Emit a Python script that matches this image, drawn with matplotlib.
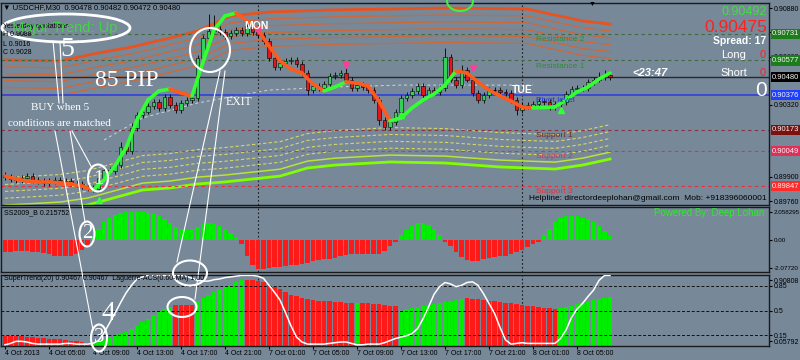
import matplotlib
matplotlib.use("Agg")
import matplotlib.pyplot as plt
from matplotlib.patches import Ellipse
import matplotlib.transforms as mtransforms

plt.rcParams['font.family'] = ['Liberation Sans', 'DejaVu Sans']
SERIF = ['Liberation Serif', 'DejaVu Serif']

# ---------------- data ----------------
time_labels = ["4 Oct 2013", "4 Oct 05:00", "4 Oct 09:00", "4 Oct 13:00", "4 Oct 17:00",
               "4 Oct 21:00", "7 Oct 01:00", "7 Oct 05:00", "7 Oct 09:00", "7 Oct 13:00",
               "7 Oct 17:00", "7 Oct 21:00", "8 Oct 01:00", "8 Oct 05:00"]
time_label_bars = [0, 8, 16, 24, 32, 40, 48, 56, 64, 72, 80, 88, 96, 104]
day_breaks = [46, 94]

# M30 closes, bar 0 .. 110
close = [0.89900, 0.89888, 0.89882, 0.89894, 0.89905, 0.89882, 0.89876, 0.89865, 0.89876, 0.89882,
         0.89871, 0.89876, 0.89865, 0.89859, 0.89847, 0.89836, 0.89830, 0.89894, 0.89940, 0.89934,
         0.89969, 0.90074, 0.90051, 0.90184, 0.90260, 0.90278, 0.90312, 0.90336, 0.90301, 0.90365,
         0.90318, 0.90289, 0.90330, 0.90347, 0.90359, 0.90591, 0.90708, 0.90748, 0.90760, 0.90743,
         0.90719, 0.90737, 0.90754, 0.90737, 0.90778, 0.90743, 0.90725, 0.90690, 0.90591, 0.90539,
         0.90562, 0.90574, 0.90580, 0.90557, 0.90504, 0.90405, 0.90429, 0.90417, 0.90440, 0.90487,
         0.90493, 0.90504, 0.90464, 0.90417, 0.90434, 0.90423, 0.90405, 0.90347, 0.90231, 0.90190,
         0.90219, 0.90278, 0.90359, 0.90376, 0.90400, 0.90429, 0.90376, 0.90405, 0.90394, 0.90417,
         0.90597, 0.90464, 0.90434, 0.90522, 0.90464, 0.90388, 0.90347, 0.90376, 0.90405, 0.90405,
         0.90394, 0.90388, 0.90347, 0.90289, 0.90318, 0.90312, 0.90324, 0.90341, 0.90336, 0.90307,
         0.90324, 0.90336, 0.90382, 0.90411, 0.90417, 0.90417, 0.90452, 0.90464, 0.90481, 0.90490,
         0.90480]
first_open = 0.89911
# wicks in pips beyond the body
wick_default = 1.5
wick_up = {21: 3, 23: 3, 35: 2, 37: 10, 38: 8, 44: 2, 62: 3, 80: 5, 83: 3, 108: 3, 109: 3}
wick_dn = {16: 2, 55: 3, 68: 3, 69: 2, 85: 2, 93: 3, 99: 2}

# colour-changing moving average, every second bar
ma_bars = list(range(0, 111, 2))
ma_vals = [0.89905, 0.89888, 0.89876, 0.89871, 0.89871, 0.89865, 0.89859, 0.89847, 0.89824, 0.89882,
           0.89964, 0.90068, 0.90231, 0.90347, 0.90400, 0.90411, 0.90388, 0.90371, 0.90568, 0.90754,
           0.90836, 0.90853, 0.90807, 0.90754, 0.90661, 0.90574, 0.90528, 0.90504, 0.90440, 0.90400,
           0.90423, 0.90452, 0.90446, 0.90429, 0.90341, 0.90225, 0.90243, 0.90301, 0.90347, 0.90382,
           0.90434, 0.90516, 0.90504, 0.90452, 0.90405, 0.90371, 0.90341, 0.90307, 0.90301, 0.90304,
           0.90307, 0.90347, 0.90394, 0.90423, 0.90469, 0.90504]

# slow dotted average
slow_bars = [18, 25, 35, 48, 60, 72, 96]
slow_vals = [0.90115, 0.90243, 0.90330, 0.90405, 0.90423, 0.90434, 0.90434]

# upper (orange) envelope family: outer line + pips below it
upper_bars = [0, 10, 17, 23, 30, 35, 41, 48, 60, 70, 80, 95, 100, 105, 110]
upper_vals = [0.90580, 0.90574, 0.90621, 0.90655, 0.90708, 0.90748, 0.90836, 0.90859, 0.90871, 0.90876,
              0.90882, 0.90876, 0.90841, 0.90807, 0.90789]
upper_steps = [0, 4, 8, 12, 16, 20]

# lower (green/yellow) envelope family: outer line + pips above it
lower_bars = [0, 10, 15, 17, 25, 30, 35, 40, 45, 50, 55, 60, 70, 80, 90, 100, 105, 110]
lower_vals = [0.89696, 0.89714, 0.89737, 0.89754, 0.89824, 0.89836, 0.89859, 0.89871, 0.89888, 0.89905,
              0.89952, 0.89969, 0.89987, 0.89981, 0.89958, 0.89946, 0.89969, 0.90004]
lower_steps = [0, 4, 8, 12, 16, 20]

# pivot levels
level_names = ["Resistance 2", "Resistance 1", "Pivot level", "Support 1", "Support 2", "Support 3"]
level_prices = [0.90731, 0.90577, 0.90376, 0.90173, 0.90049, 0.89847]
level_colors = ['#3e6b3e', '#3e6b3e', '#2f3fe0', '#8a3040', '#c8385e', '#e8303c']
level_text_colors = ['#2f8f2f', '#2f8f2f', '#2233ee', '#6e2a2a', '#c8385e', '#e8303c']
level_box_colors = ['#1d7d1d', '#1d7d1d', '#1f3fff', '#7a1010', '#e0305a', '#ff2a2a']
bid_price = 0.90480

# scale labels left visible between the level boxes
price_ticks = [0.9088, 0.9074, 0.9060, 0.9032, 0.8990, 0.8976]

# signal arrows
sell_bars = [46, 62, 85]
sell_prices = [0.90754, 0.90551, 0.90533]
buy_bars = [17, 72, 101]
buy_prices = [0.89766, 0.90260, 0.90289]

# SS2009_B histogram
ss_vals = [-0.95, -0.95, -0.85, -0.85, -0.85, -0.9, -0.95, -1.0, -1.1, -1.2,
           -1.25, -1.25, -1.2, -1.1, -0.8, -0.4, 0.2, 0.8, 1.3, 1.6,
           1.8, 1.95, 2.0, 2.05, 2.05, 2.0, 1.95, 1.85, 1.7, 1.5,
           1.25, 0.95, 0.78, 0.7, 0.8, 0.95, 1.15, 1.2, 1.15, 1.0,
           0.75, 0.45, 0.15, -0.3, -1.2, -1.9, -2.15, -2.15, -2.1, -2.05,
           -2.0, -1.95, -1.9, -1.85, -1.8, -1.7, -1.6, -1.5, -1.45, -1.4,
           -1.35, -1.25, -1.15, -1.1, -1.05, -1.1, -1.1, -1.1, -1.05, -0.85,
           -0.5, -0.15, 0.3, 0.7, 1.0, 1.2, 1.2, 1.05, 0.75, 0.35,
           -0.15, -0.5, -0.9, -1.3, -1.5, -1.6, -1.55, -1.45, -1.35, -1.3,
           -1.25, -1.2, -1.1, -0.95, -0.75, -0.55, -0.35, -0.15, 0.3, 0.8,
           1.3, 1.6, 1.75, 1.75, 1.7, 1.6, 1.5, 1.3, 1.0, 0.6, 0.25]

# SuperTrend / Laguerre histogram and its colour runs
lag_hist = [0.14, 0.14, 0.13, 0.13, 0.12, 0.12, 0.11, 0.11, 0.10, 0.09,
            0.09, 0.08, 0.07, 0.06, 0.05, 0.04, 0.04, 0.06, 0.08, 0.11,
            0.14, 0.17, 0.20, 0.24, 0.28, 0.33, 0.38, 0.43, 0.48, 0.52,
            0.55, 0.58, 0.58, 0.58, 0.58, 0.63, 0.68, 0.72, 0.76, 0.80,
            0.84, 0.87, 0.90, 0.93, 0.93, 0.93, 0.92, 0.90, 0.87, 0.84,
            0.80, 0.76, 0.72, 0.70, 0.68, 0.66, 0.65, 0.64, 0.63, 0.63,
            0.62, 0.62, 0.61, 0.61, 0.61, 0.60, 0.60, 0.59, 0.59, 0.58,
            0.57, 0.56, 0.50, 0.52, 0.53, 0.55, 0.56, 0.57, 0.59, 0.60,
            0.62, 0.63, 0.65, 0.66, 0.68, 0.67, 0.66, 0.65, 0.64, 0.63,
            0.62, 0.61, 0.60, 0.59, 0.58, 0.57, 0.56, 0.55, 0.54, 0.53,
            0.52, 0.53, 0.55, 0.57, 0.59, 0.61, 0.63, 0.65, 0.67, 0.68, 0.69]
lag_runs = [('r', 16), ('g', 15), ('r', 4), ('g', 9), ('r', 20), ('g', 1),
            ('r', 7), ('g', 12), ('r', 17), ('g', 10)]
lag_line = [0.01, 0.03, 0.06, 0.06, 0.05, 0.03, 0.02, 0.02, 0.02, 0.02,
            0.02, 0.03, 0.03, 0.02, 0.02, 0.02, 0.03, 0.07, 0.18, 0.32,
            0.46, 0.61, 0.75, 0.86, 0.95, 0.98, 1.0, 1.0, 1.0, 1.0,
            1.0, 1.0, 1.0, 0.99, 0.96, 0.93, 0.92, 0.92, 0.94, 0.95,
            0.97, 0.98, 0.99, 1.0, 1.0, 1.0, 0.99, 0.96, 0.86, 0.76,
            0.65, 0.47, 0.28, 0.12, 0.05, 0.02, 0.02, 0.02, 0.02, 0.03,
            0.04, 0.05, 0.05, 0.03, 0.01, 0.01, 0.02, 0.02, 0.02, 0.04,
            0.07, 0.10, 0.12, 0.14, 0.17, 0.24, 0.38, 0.55, 0.73, 0.84,
            0.90, 0.88, 0.84, 0.86, 0.90, 0.91, 0.86, 0.74, 0.60, 0.46,
            0.26, 0.08, 0.02, 0.03, 0.04, 0.03, 0.03, 0.03, 0.03, 0.03,
            0.03, 0.10, 0.22, 0.40, 0.52, 0.60, 0.70, 0.79, 0.93, 1.0, 1.0]

# ---------------- layout ----------------
BG = '#778899'
PIP = 0.0001
GREEN = '#00ee00'
RED = '#ff1a1a'


def px_rect(x0, y0, x1, y1):
    return [x0 / 800, 1 - y1 / 360, (x1 - x0) / 800, (y1 - y0) / 360]


fig = plt.figure(figsize=(8, 3.6), dpi=100, facecolor=BG)
ax1 = fig.add_axes(px_rect(1, 3, 769, 205))
ax2 = fig.add_axes(px_rect(1, 207, 769, 272))
ax3 = fig.add_axes(px_rect(1, 275, 769, 346))

xlim = (-4 / 5.5, -4 / 5.5 + 768 / 5.5)
for ax in (ax1, ax2, ax3):
    ax.set_facecolor(BG)
    ax.set_xlim(*xlim)
    for s in ax.spines.values():
        s.set_color('#1a1a1a')
        s.set_linewidth(1)
    ax.yaxis.tick_right()
    ax.tick_params(axis='y', labelsize=5, length=2, pad=1.5, colors='black')
    for d in day_breaks:
        ax.axvline(d, color='#1e1e1e', lw=0.8, ls=(0, (1.5, 2)), zorder=1)
for ax in (ax1, ax2):
    ax.tick_params(axis='x', bottom=False, labelbottom=False)

# ---- main price panel ----
ax1.set_ylim(0.897368, 0.909112)
ax1.set_yticks(price_ticks)
ax1.set_yticklabels(['%.5f' % p for p in price_ticks])

for k, st in enumerate(upper_steps):
    vals = [v - st * PIP for v in upper_vals]
    if k == 0:
        ax1.plot(upper_bars, vals, color='#e8531f', lw=2.0, zorder=2)
    else:
        ax1.plot(upper_bars, vals, color='#d9642e', lw=0.9, alpha=0.9, zorder=2)

for k, st in enumerate(lower_steps):
    vals = [v + st * PIP for v in lower_vals]
    if k == 0:
        ax1.plot(lower_bars, vals, color='#7fff00', lw=2.0, zorder=2)
    elif k == 1:
        ax1.plot(lower_bars, vals, color='#b8e436', lw=1.1, zorder=2)
    else:
        ax1.plot(lower_bars, vals, color='#d6d862', lw=0.8, ls=(0, (3, 2)), zorder=2)

ax1.plot(slow_bars, slow_vals, color='#cfd6de', lw=0.7, ls=(0, (3, 3)), zorder=2)

for name, p, c, tc, bc in zip(level_names, level_prices, level_colors, level_text_colors, level_box_colors):
    if name == "Pivot level":
        ax1.axhline(p, color=c, lw=1.2, zorder=2)
    else:
        ax1.axhline(p, color=c, lw=0.8, ls=(0, (3, 3)), zorder=2)
    ax1.annotate(name, (96.5, p), xytext=(0, -1.5), textcoords='offset points',
                 fontsize=6, color=tc, va='top', ha='left', zorder=6)
ax1.axhline(bid_price, color='#2a2a2a', lw=1.0, zorder=2)

trans1 = mtransforms.blended_transform_factory(ax1.transAxes, ax1.transData)
box_prices = level_prices[:2] + [bid_price] + level_prices[2:]
box_colors = level_box_colors[:2] + ['#000000'] + level_box_colors[2:]
for p, bc in zip(box_prices, box_colors):
    ax1.text(1.004, p, '%.5f' % p, transform=trans1, fontsize=5.5, color='#f4f4f4',
             ha='left', va='center', clip_on=False, zorder=8,
             bbox=dict(boxstyle='square,pad=0.2', fc=bc, ec='none'))

# candles
opens = [first_open] + close[:-1]
for i, (o, c) in enumerate(zip(opens, close)):
    top, bot = max(o, c), min(o, c)
    hi = top + wick_up.get(i, wick_default) * PIP
    lo = bot - wick_dn.get(i, wick_default) * PIP
    ax1.vlines(i, lo, hi, color='black', lw=0.6, zorder=3)
    if abs(c - o) < 0.00003:
        ax1.hlines(c, i - 0.35, i + 0.35, color='black', lw=0.8, zorder=4)
    else:
        ax1.bar(i, top - bot, bottom=bot, width=0.66, color='#32d25a' if c > o else '#e01818',
                edgecolor='black', linewidth=0.4, zorder=4)

# colour-changing MA
for k in range(len(ma_bars) - 1):
    up = ma_vals[k + 1] > ma_vals[k]
    ax1.plot(ma_bars[k:k + 2], ma_vals[k:k + 2], color='#33ff33' if up else '#ff5a1e',
             lw=2.6, solid_capstyle='round', zorder=5)

ax1.plot(sell_bars, sell_prices, 'v', color='#ff3d9a', ms=5, zorder=6)
ax1.plot(buy_bars, buy_prices, '^', color='#33ff33', ms=5, zorder=6)

# ---- SS2009_B panel ----
ax2.set_ylim(-2.39, 2.39)
ax2.bar(range(len(ss_vals)), ss_vals, width=0.8,
        color=[GREEN if v > 0 else RED for v in ss_vals], zorder=2)
ax2.set_yticks([2.058295, 0.0, -2.077207])
ax2.set_yticklabels(['2.058295', '0.00', '-2.07720'])
ax2.tick_params(axis='y', labelsize=4.5)

# ---- SuperTrend / Laguerre panel ----
ax3.set_ylim(-0.007, 1.007)
lag_cols = []
for col, n in lag_runs:
    lag_cols += [GREEN if col == 'g' else RED] * n
ax3.bar(range(len(lag_hist)), lag_hist, width=0.8, color=lag_cols, zorder=2)
for lv in (0.15, 0.5, 0.85):
    ax3.axhline(lv, color='#111111', lw=0.7, ls=(0, (3, 2)), zorder=3)
ax3.plot(range(len(lag_line)), lag_line, color='white', lw=1.1, zorder=4)
ax3.set_yticks([0.93, 0.85, 0.5, 0.15, 0.06])
ax3.set_yticklabels(['0.90808', '0.85', '0.5', '0.15', '0.05792'])
ax3.set_xticks(time_label_bars)
ax3.set_xticklabels(time_labels, ha='left')
ax3.tick_params(axis='x', labelsize=5, length=2, pad=1, colors='black')

# ---------------- overlay: texts and hand drawn marks (pixel coords) ----------------
ov = fig.add_axes([0, 0, 1, 1], zorder=20)
ov.set_xlim(0, 800)
ov.set_ylim(360, 0)
ov.axis('off')
ov.patch.set_alpha(0)

ov.text(3, 8, "\u25bc USDCHF,M30  0.90478 0.90482 0.90472 0.90480", fontsize=5.5, va='center')
ov.text(592, 4, "\u25bc", fontsize=5, ha='center', va='center')
ov.text(3, 26, "Yesterday quotations:", fontsize=5, va='center')
ov.text(3, 35, "H 0.9088", fontsize=5, va='center')
ov.text(3, 44, "L 0.9016", fontsize=5, va='center')
ov.text(3, 53, "C 0.9028", fontsize=5, va='center')
ov.text(12, 28, "Major Trend: Up", fontsize=10.5, color='#3ddc3d', va='center', alpha=0.9)

ov.text(767, 12, "0.90492", fontsize=9, color='#3ee03e', ha='right', va='center')
ov.text(767, 27, "0.90475", fontsize=12.5, color='#ff2020', ha='right', va='center')
ov.text(766, 41, "Spread: 17", fontsize=7.5, color='white', weight='bold', ha='right', va='center')
ov.text(734, 55, "Long", fontsize=8, color='white', ha='center', va='center')
ov.text(763, 55, "0", fontsize=8, color='#ff2020', ha='center', va='center')
ov.text(734, 73, "Short", fontsize=8, color='white', ha='center', va='center')
ov.text(763, 73, "0", fontsize=8, color='#ff2020', ha='center', va='center')
ov.text(650, 73, "<23:47", fontsize=8, color='white', weight='bold', style='italic', ha='center', va='center')
ov.text(761, 90, "0", fontsize=15, color='white', ha='center', va='center')

ov.text(767, 198, "Helpline: directordeeplohan@gmail.com  Mob: +918396060001", fontsize=6,
        ha='right', va='center')
ov.text(764, 213, "Powered By: Deep Lohan", fontsize=7, color='#2ee82e', ha='right', va='center')
ov.text(4, 213, "SS2009_B 0.215752", fontsize=5, va='center')
ov.text(4, 279, "SuperTrend(20) 0.90467 0.90467  Laguerre-ACS(0.60-MA) 1.00", fontsize=5, va='center')

ov.text(256, 26, "MON", fontsize=7.5, color='white', weight='bold', ha='center', va='center')
ov.text(522, 90, "TUE", fontsize=7.5, color='white', weight='bold', ha='center', va='center')

serif_txt = [(67, 49, "5", 20), (127, 81, "85 PIP", 17), (60, 108, "BUY when 5", 8),
             (59, 124, "conditions are matched", 8), (239, 102, "EXIT", 8.5),
             (98, 179, "1", 15), (87, 234, "2", 15), (99, 338, "3", 15), (108, 313, "4", 20)]
for x, y, s, fs in serif_txt:
    ov.text(x, y, s, fontsize=fs, color='white', family=SERIF, ha='center', va='center')

ellipses = [(66, 28, 128, 28, 2.0), (98, 178, 20, 27, 1.5), (87, 234, 15, 25, 1.5),
            (99, 338, 16, 27, 1.5), (190, 273, 34, 25, 1.5), (182, 307, 29, 20, 1.5),
            (210, 50, 40, 44, 1.5)]
for cx, cy, w, h, lw in ellipses:
    ov.add_patch(Ellipse((cx, cy), w, h, fill=False, ec='white', lw=lw))
ov.add_patch(Ellipse((460, 1), 26, 20, fill=False, ec='#44ee44', lw=1.5))

strokes = [((53, 41), (59, 103)), ((60, 42), (63, 103)), ((55, 131), (93, 330)),
           ((70, 131), (85, 222)), ((72, 131), (92, 168)), ((220, 71), (177, 262)),
           ((225, 71), (195, 299))]
for (xa, ya), (xb, yb) in strokes:
    ov.plot([xa, xb], [ya, yb], color='white', lw=0.8)

fig.savefig('out.png', dpi=100, facecolor=BG)
